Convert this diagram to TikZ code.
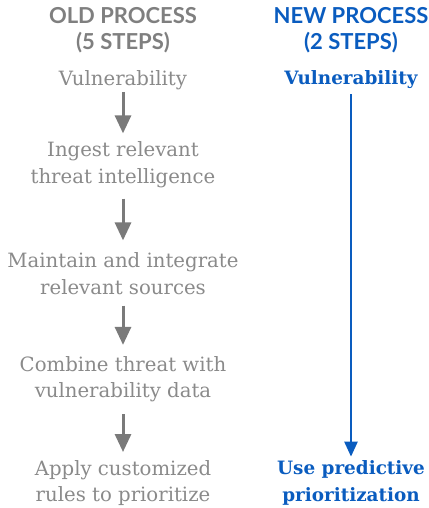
\documentclass[tikz,border=0pt]{standalone}
\usepackage{fontspec}
\setmainfont{DejaVu Serif}
\newfontfamily\headfont{Lato}
\usetikzlibrary{arrows.meta}
\definecolor{hgray}{HTML}{7F7F7F}
\definecolor{tgray}{HTML}{8A8A8A}
\definecolor{agray}{HTML}{7A7A7A}
\definecolor{nblue}{HTML}{0A5CBF}
\tikzset{
  head/.style={font=\headfont\bfseries\fontsize{22}{26}\selectfont, align=center, inner sep=0pt},
  oldstep/.style={font=\fontsize{19.7}{26.5}\selectfont, text=tgray, align=center, inner sep=0pt},
  newstep/.style={font=\bfseries\fontsize{18.4}{26.5}\selectfont, text=nblue, align=center, inner sep=0pt},
  oldarrow/.style={draw=agray, line width=3pt, -{Triangle[width=16pt,length=18pt]}, shorten >=8pt, shorten <=2pt},
  newarrow/.style={draw=nblue, line width=2.5pt, -{Triangle[width=13pt,length=15pt]}, shorten >=4pt, shorten <=5pt}
}
\begin{document}
\begin{tikzpicture}[x=1pt,y=-1pt]
\useasboundingbox (0,0) rectangle (428,508);
\node[head, text=hgray] (oh) at (123,30) {OLD PROCESS\\(5 STEPS)};
\node[head, text=nblue] (nh) at (351,30) {NEW PROCESS\\(2 STEPS)};
\node[oldstep] (o1) at (123,80) {Vulnerability};
\node[oldstep] (o2) at (123,164.5) {Ingest relevant\\threat intelligence};
\node[oldstep] (o3) at (123,273.5) {Maintain and integrate\\relevant sources};
\node[oldstep] (o4) at (123,379) {Combine threat with\\vulnerability data};
\node[oldstep] (o5) at (123,483) {Apply customized\\rules to prioritize};
\node[newstep] (n1) at (351,80) {Vulnerability};
\node[newstep] (n2) at (351,483) {Use predictive\\prioritization};
\draw[oldarrow] (o1) -- (o2);
\draw[oldarrow, shorten <=11pt, shorten >=12pt] (o2) -- (o3);
\draw[oldarrow, shorten <=11pt, shorten >=11pt] (o3) -- (o4);
\draw[oldarrow, shorten <=12pt] (o4) -- (o5);
\draw[newarrow] (n1) -- (n2);
\end{tikzpicture}
\end{document}
